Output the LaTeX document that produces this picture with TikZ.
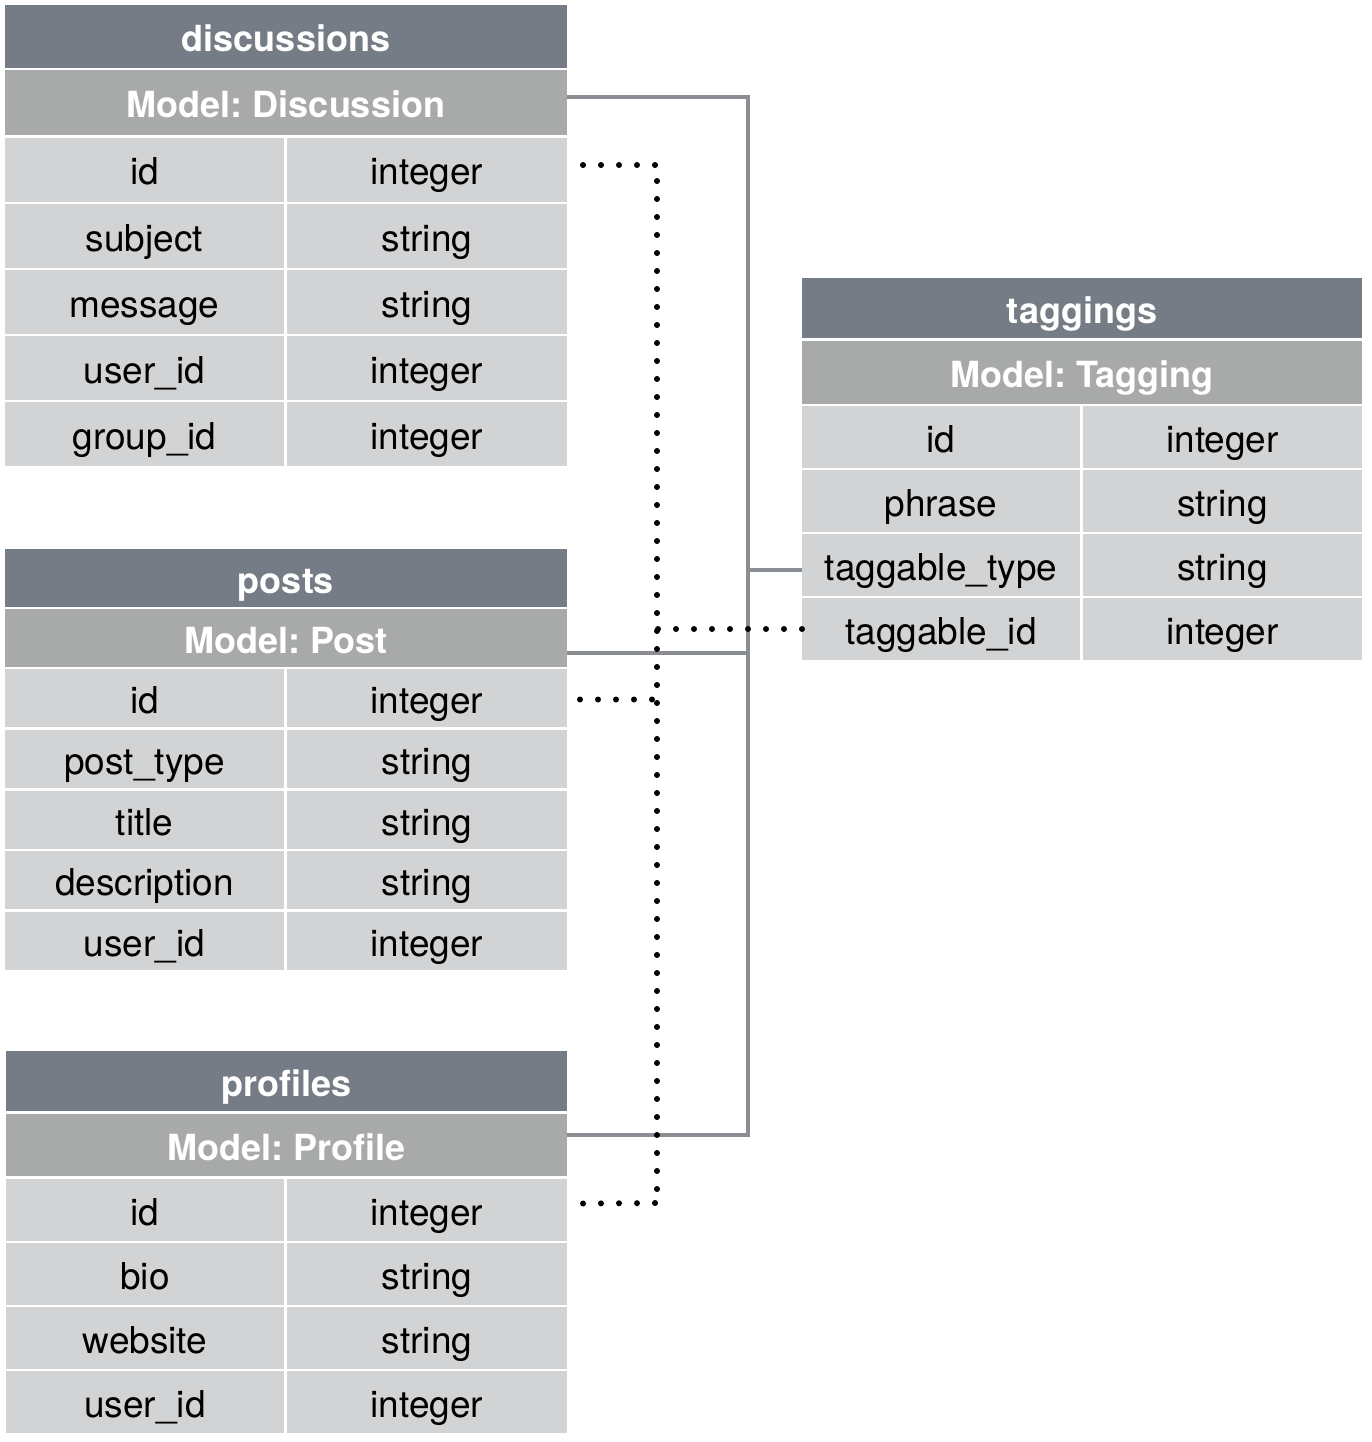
\documentclass[tikz,border=0pt]{standalone}
\usepackage{fontspec}
\setmainfont{TeX Gyre Heros}
\usepackage{tikz}

\definecolor{titlegray}{RGB}{118,124,134}
\definecolor{modelgray}{RGB}{168,170,169}
\definecolor{cellgray}{RGB}{210,211,213}
\definecolor{linkgray}{RGB}{138,141,145}

\tikzset{
  box/.style={anchor=north west, inner sep=0pt, outer sep=0pt, text=black,
    text height=33pt, text depth=3pt, font=\frenchspacing\fontsize{37}{44}\selectfont},
  tabletitle/.style={box, fill=titlegray, text=white, font=\frenchspacing\bfseries\fontsize{36}{43}\selectfont},
  tablemodel/.style={box, fill=modelgray, text=white, font=\frenchspacing\bfseries\fontsize{36}{43}\selectfont},
  tablecell/.style={box, fill=cellgray},
  link/.style={draw=linkgray, line width=3.5pt},
  fkey/.style={draw=black, line width=6pt, line cap=round, dash pattern=on 0pt off 18pt}
}

\begin{document}
\begin{tikzpicture}[x=1pt,y=-1pt]
    \useasboundingbox (0,0) rectangle (1372,1442);

    % discussions table
    \node[tabletitle, minimum width=562pt, minimum height=63pt] (disc-title) at (5,5) {discussions};
    \node[tablemodel, minimum width=562pt, minimum height=65pt] (disc-model) at (5,70) {Model: Discussion};
    \foreach \y/\f/\t [count=\i] in {138/id/integer, 204/subject/string, 270/message/string,
                                     336/user\_id/integer, 402/group\_id/integer}
    {
      \node[tablecell, minimum width=279pt, minimum height=64pt] (disc-f\i) at (5,\y) {\f};
      \node[tablecell, minimum width=280pt, minimum height=64pt] (disc-t\i) at (287,\y) {\t};
    }

    % posts table
    \node[tabletitle, minimum width=562pt, minimum height=58pt] (post-title) at (5,549) {posts};
    \node[tablemodel, minimum width=562pt, minimum height=58pt] (post-model) at (5,609) {Model: Post};
    \foreach \y/\f/\t [count=\i] in {669/id/integer, 730/post\_type/string, 791/title/string,
                                     851/description/string, 912/user\_id/integer}
    {
      \node[tablecell, minimum width=279pt, minimum height=58pt] (post-f\i) at (5,\y) {\f};
      \node[tablecell, minimum width=280pt, minimum height=58pt] (post-t\i) at (287,\y) {\t};
    }

    % profiles table
    \node[tabletitle, minimum width=561pt, minimum height=60pt] (prof-title) at (6,1051) {profiles};
    \node[tablemodel, minimum width=561pt, minimum height=62pt] (prof-model) at (6,1114) {Model: Profile};
    \foreach \y/\f/\t [count=\i] in {1179/id/integer, 1243/bio/string, 1307/website/string,
                                     1371/user\_id/integer}
    {
      \node[tablecell, minimum width=278pt, minimum height=62pt] (prof-f\i) at (6,\y) {\f};
      \node[tablecell, minimum width=280pt, minimum height=62pt] (prof-t\i) at (287,\y) {\t};
    }

    % taggings table
    \node[tabletitle, minimum width=560pt, minimum height=60pt] (tag-title) at (802,278) {taggings};
    \node[tablemodel, minimum width=560pt, minimum height=63pt] (tag-model) at (802,341) {Model: Tagging};
    \foreach \y/\f/\t [count=\i] in {406/id/integer, 470/phrase/string, 534/taggable\_type/string,
                                     598/taggable\_id/integer}
    {
      \node[tablecell, minimum width=278pt, minimum height=62pt] (tag-f\i) at (802,\y) {\f};
      \node[tablecell, minimum width=279pt, minimum height=62pt] (tag-t\i) at (1083,\y) {\t};
    }

    % polymorphic type links
    \coordinate (bus-end) at (748,1135);
    \draw[link] ([yshift=5.5pt]disc-model.east) -| (bus-end) -- ([yshift=10pt]prof-model.east);
    \draw[link] ([yshift=-15pt]post-model.east) -- ++(181,0);
    \draw[link] ([yshift=-5pt]tag-f3.west) -- ++(-54,0);

    % polymorphic id links
    \coordinate (fk-end) at (657,1203);
    \draw[fkey] ([xshift=16pt,yshift=5pt]disc-t1.east) -| (fk-end);
    \draw[fkey] ([xshift=16pt,yshift=6.5pt]prof-t1.east) -- (fk-end);
    \draw[fkey] ([xshift=13pt,yshift=-1.5pt]post-t1.east) -- ++(77,0);
    \draw[fkey] (tag-f4.west) -- ++(-145,0);

  \end{tikzpicture}
\end{document}
